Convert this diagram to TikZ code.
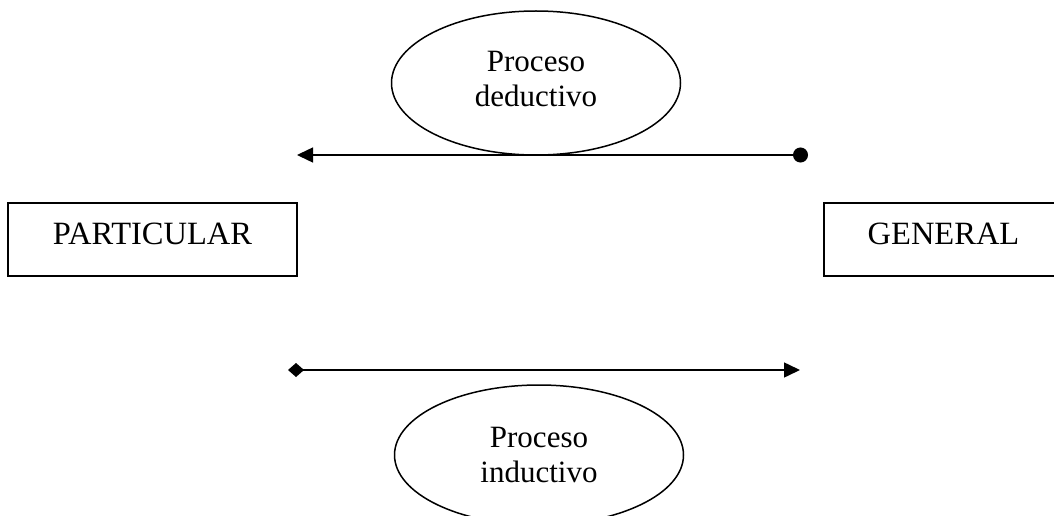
\documentclass[tikz,border=0pt]{standalone}
\usepackage{fontspec}
\setmainfont{Liberation Serif}
\usetikzlibrary{shapes.geometric,arrows.meta}

\tikzset{
  bigtext/.style={font=\fontsize{31pt}{35pt}\selectfont},
  endbox/.style={font=\fontsize{32.5pt}{36pt}\selectfont, draw, line width=1.6pt, inner sep=0pt, text height=41pt, text depth=32pt},
  procellipse/.style={bigtext, ellipse, draw, line width=1.5pt, inner sep=0pt, minimum width=289pt, minimum height=144pt, align=center},
  flow/.style={line width=1.5pt}
}

\begin{document}
\begin{tikzpicture}[x=1pt,y=-1pt]
\useasboundingbox (0,0) rectangle (1054,516);

% the two ends
\node[endbox, minimum width=289pt] (particular) at (152.5,239.5) {PARTICULAR};
\node[endbox, minimum width=239pt] (general) at (943.5,239.5) {GENERAL};

% the two processes
\node[procellipse] (deductivo) at (536,83) {Proceso\\deductivo\rule[-8pt]{0pt}{8pt}};
\node[procellipse, minimum height=140pt] (inductivo) at (539,455) {Proceso\\inductivo};

% arrows
\coordinate (dedstart) at (808,155);
\coordinate (dedend) at (297,155);
\coordinate (indstart) at (288,370);
\coordinate (indend) at (800,370);
\draw[flow, {Circle[length=15pt]}-{Triangle[length=16pt,width=15pt]}] (dedstart) -- (dedend);
\draw[flow, {Diamond[length=16pt,width=14pt]}-{Triangle[length=16pt,width=15pt]}] (indstart) -- (indend);
\end{tikzpicture}
\end{document}
